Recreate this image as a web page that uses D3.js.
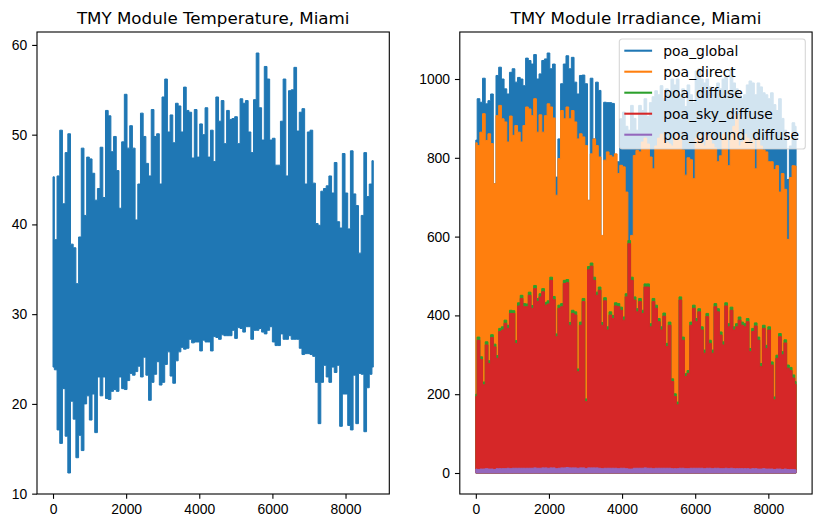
<!DOCTYPE html>
<html>
<head>
<meta charset="utf-8">
<script src="https://cdn.jsdelivr.net/npm/d3@7/dist/d3.min.js"></script>
<style>
  body { margin: 0; background: #fff; }
  svg { display: block; font-family: "DejaVu Sans", sans-serif; }
  .tick text { font-size: 13.9px; fill: #000; }
  .tick line { stroke: #000; stroke-width: 1.1; }
</style>
</head>
<body>
<svg id="chart" width="822" height="528"></svg>
<script>
// module temperature, daily-ish max / min (120 samples over the year)
var tempMax = [45.3, 38.3, 45.4, 50.5, 42.3, 48, 50.1, 37.8, 37.4, 33.4,
  38.6, 48.5, 41, 47.5, 47.3, 45.7, 42.7, 44, 48.6, 43,
  52.7, 52.1, 48.1, 49.8, 46, 41.8, 49.2, 54.5, 48.5, 51,
  48.5, 40.5, 44.5, 52.4, 49.8, 46.8, 45.4, 52.8, 49.8, 50.1,
  44.5, 54.2, 56.2, 50.3, 52.2, 49.1, 53.5, 53.2, 50.3, 55.3,
  52.7, 52.5, 47.4, 52.8, 47.5, 51.2, 50, 53, 47.5, 50.5,
  47, 54.2, 51.5, 53.8, 49, 52.7, 51.7, 51.8, 52, 49,
  54, 53.5, 53.8, 50.3, 48, 53.9, 59.1, 53, 49.4, 57.6,
  56.2, 49.4, 49.6, 46.6, 46.6, 51.5, 56.2, 45.4, 54.9, 55,
  57.5, 50.4, 52.5, 52.9, 44.5, 50.3, 50.5, 44.6, 40.1, 39.9,
  43.7, 44, 44.3, 45.4, 43.5, 46.9, 40.3, 39.6, 47.9, 43.5,
  39.5, 48.2, 43.4, 42.1, 36.8, 41, 48, 43.1, 44.5, 47.1];

var tempMin = [24.1, 23.8, 17.1, 15.6, 21.7, 16.4, 12.3, 20.3, 18.3, 14,
  16.5, 14.8, 20, 20.9, 18.2, 21.1, 16.8, 23, 20.9, 23,
  20.6, 20.5, 21.4, 21.6, 21.4, 23, 21.7, 21.6, 22.6, 23.4,
  23.2, 23.6, 24.2, 23, 25.2, 23.2, 20.4, 22.4, 23.3, 24.7,
  22.1, 22.4, 24.4, 25.8, 23.1, 22.3, 24.8, 25.8, 26.3, 26.1,
  26.2, 27.2, 26.8, 26.9, 26.9, 25.9, 27.1, 26.9, 26.9, 25.9,
  27.5, 27.4, 27.2, 27.7, 27.6, 27.6, 27.6, 28.2, 27.3, 28.5,
  28.4, 28, 28.6, 28.6, 27.2, 28.2, 28.2, 28.4, 28, 27.8,
  28.2, 28.6, 26.9, 26.5, 26.5, 27.8, 27.2, 27.2, 27.6, 27.2,
  27.2, 27.2, 26.2, 25.5, 25.6, 25.6, 25.5, 25.3, 22.4, 17.8,
  22.4, 24.3, 23, 22.4, 24.1, 23.5, 24.3, 17.5, 21.1, 21.1,
  17.6, 17.1, 23.2, 17.8, 23.4, 23.3, 16.9, 21.8, 23.3, 24.1];

// irradiance peaks (nights are 0)
var poaGlobal = [845, 950, 941, 1002, 937, 945, 962, 734, 1009, 1030,
  1000, 975, 962, 1017, 1026, 992, 1004, 1000, 983, 1053,
  1047, 1038, 1062, 1000, 1013, 1047, 1051, 1066, 1026, 1038,
  751, 848, 988, 1038, 1059, 1026, 1055, 992, 962, 1009,
  1010, 988, 692, 1002, 848, 992, 971, 600, 941, 940,
  940, 938, 755, 790, 899, 916, 880, 870, 933, 900,
  870, 933, 920, 950, 905, 940, 955, 970, 960, 983,
  950, 975, 960, 1000, 985, 1000, 960, 975, 930, 985,
  960, 940, 1020, 1026, 1000, 990, 1000, 980, 975, 960,
  990, 975, 1000, 1005, 960, 1026, 990, 975, 960, 950,
  960, 985, 995, 990, 960, 990, 980, 965, 960, 950,
  965, 935, 920, 950, 900, 870, 745, 830, 889, 880];

var poaDirect = [838, 831, 865, 912, 844, 861, 836, 734, 907, 933,
  899, 891, 840, 906, 857, 882, 865, 840, 882, 929,
  924, 907, 950, 865, 909, 865, 907, 937, 929, 901,
  705, 798, 920, 899, 929, 899, 920, 891, 848, 861,
  853, 831, 692, 810, 848, 831, 802, 603, 794, 815,
  806, 802, 810, 760, 781, 777, 713, 587, 603, 806,
  819, 815, 840, 850, 835, 802, 772, 830, 850, 860,
  845, 840, 835, 830, 850, 860, 845, 820, 756, 800,
  795, 747, 850, 855, 840, 830, 860, 850, 835, 825,
  790, 805, 860, 850, 780, 860, 880, 910, 830, 840,
  860, 850, 840, 845, 772, 850, 830, 820, 815, 790,
  790, 770, 780, 713, 760, 720, 593, 750, 780, 779];

var poaDiffuse = [200, 345, 295, 231, 333, 285, 351, 327, 298, 367,
  371, 388, 375, 413, 412, 336, 432, 451, 430, 429,
  459, 425, 476, 443, 455, 468, 433, 437, 497, 448,
  353, 426, 430, 489, 491, 382, 413, 409, 264, 383,
  443, 188, 524, 533, 497, 459, 472, 382, 445, 371,
  409, 400, 432, 430, 421, 396, 455, 590, 497, 447,
  417, 443, 413, 480, 480, 379, 443, 426, 392, 371,
  406, 329, 383, 239, 201, 180, 447, 345, 252, 260,
  383, 426, 392, 417, 371, 312, 405, 337, 312, 430,
  417, 358, 333, 432, 379, 421, 371, 379, 396, 383,
  379, 392, 316, 367, 381, 345, 278, 375, 324, 371,
  282, 193, 299, 354, 308, 338, 274, 268, 249, 232];

var poaSkyDiffuse = [194, 337, 288, 224, 325, 278, 344, 320, 291, 359,
  363, 380, 367, 405, 405, 329, 424, 443, 422, 422,
  451, 418, 468, 435, 447, 460, 426, 429, 489, 440,
  346, 418, 422, 481, 483, 375, 405, 401, 257, 375,
  435, 181, 516, 525, 489, 451, 464, 375, 437, 363,
  401, 392, 424, 422, 413, 388, 447, 582, 489, 439,
  409, 435, 405, 472, 472, 371, 435, 418, 384, 363,
  398, 321, 375, 232, 194, 173, 439, 337, 245, 253,
  375, 418, 384, 409, 363, 304, 397, 329, 304, 422,
  409, 350, 325, 424, 371, 413, 363, 371, 388, 375,
  371, 384, 308, 359, 373, 337, 270, 367, 316, 363,
  274, 186, 291, 346, 300, 330, 266, 260, 241, 225];

var poaGroundDiffuse = [10, 9, 10, 10, 11, 10, 10, 9, 11, 11,
  11, 11, 12, 11, 12, 12, 12, 12, 12, 12,
  12, 12, 13, 12, 12, 13, 13, 12, 13, 13,
  11, 12, 13, 13, 14, 13, 13, 13, 12, 13,
  13, 11, 13, 13, 13, 13, 12, 11, 12, 12,
  12, 12, 12, 11, 12, 12, 11, 10, 10, 12,
  12, 12, 12, 13, 12, 12, 11, 12, 12, 12,
  12, 12, 12, 11, 11, 11, 12, 12, 11, 11,
  12, 12, 12, 12, 12, 11, 12, 12, 11, 12,
  12, 11, 11, 12, 11, 12, 11, 11, 11, 11,
  11, 11, 10, 11, 11, 10, 10, 11, 10, 10,
  10, 9, 10, 10, 9, 10, 9, 9, 9, 8];

var seriesNames = ["poa_global", "poa_direct", "poa_diffuse", "poa_sky_diffuse", "poa_ground_diffuse"];
var seriesColors = ["#1f77b4", "#ff7f0e", "#2ca02c", "#d62728", "#9467bd"];
var seriesData = [poaGlobal, poaDirect, poaDiffuse, poaSkyDiffuse, poaGroundDiffuse];

var xTicks = [0, 2000, 4000, 6000, 8000];
var tempTicks = [10, 20, 30, 40, 50, 60];
var irrTicks = [0, 200, 400, 600, 800, 1000];

// hour of year for each sample
var hours = d3.range(tempMax.length).map(function(i) { return i * 8759 / (tempMax.length - 1); });

var svg = d3.select("#chart");
var axW = 352.3, axH = 462, axTop = 32;
var lw = 2.08;

// the hourly line swings low -> high every day, so at this size it reads as a
// band: draw it as a stepped band between the night low and the day high
function band(lo, hi) {
  return hi.map(function(v, i) {
    return { q: hours[i], lo: lo ? lo[i] : 0, hi: v };
  });
}

function makePanel(id, left, yDomain, yTicks, title) {
  var g = svg.append("g")
      .attr("id", id)
      .attr("transform", "translate(" + left + "," + axTop + ")");

  var x = d3.scaleLinear().domain([-437.95, 9196.95]).range([0, axW]);
  var y = d3.scaleLinear().domain(yDomain).range([axH, 0]);

  g.append("clipPath").attr("id", "clip_" + id)
    .append("rect").attr("width", axW).attr("height", axH);

  var plot = g.append("g").attr("clip-path", "url(#clip_" + id + ")");

  // x axis
  var xa = g.append("g")
      .attr("transform", "translate(0," + axH + ")")
      .call(d3.axisBottom(x).tickValues(xTicks).tickFormat(d3.format("d")).tickSize(4.86).tickPadding(4.86));
  xa.select(".domain").remove();
  xa.selectAll("text").attr("dy", "0.76em");

  // y axis
  var ya = g.append("g")
      .call(d3.axisLeft(y).tickValues(yTicks).tickFormat(d3.format("d")).tickSize(4.86).tickPadding(4.86));
  ya.select(".domain").remove();

  // frame
  g.append("rect")
      .attr("width", axW).attr("height", axH)
      .attr("fill", "none").attr("stroke", "#000").attr("stroke-width", 1.1);

  g.append("text")
      .attr("x", axW / 2).attr("y", -8.3)
      .attr("text-anchor", "middle")
      .style("font-size", "16.7px")
      .text(title);

  var area = d3.area()
      .curve(d3.curveStep)
      .x(function(d) { return x(d.q); })
      .y0(function(d) { return y(d.lo); })
      .y1(function(d) { return y(d.hi); });

  return { plot: plot, area: area, g: g };
}

function drawBand(panel, data, color) {
  panel.plot.append("path")
      .datum(data)
      .attr("fill", color)
      .attr("stroke", color)
      .attr("stroke-width", 1)
      .attr("stroke-linejoin", "round")
      .attr("d", panel.area);
}

// -------- left: temperature --------
var left = makePanel("temp", 37, [9.96, 61.44], tempTicks, "TMY Module Temperature, Miami");
drawBand(left, band(tempMin, tempMax), "#1f77b4");

// -------- right: irradiance --------
var right = makePanel("irr", 459.8, [-53.3, 1119.3], irrTicks, "TMY Module Irradiance, Miami");
seriesData.forEach(function(s, k) {
  drawBand(right, band(null, s), seriesColors[k]);
});

// legend
var lg = svg.append("g").attr("transform", "translate(619.3,39)");
lg.append("rect")
    .attr("width", 186).attr("height", 110).attr("rx", 2.8)
    .attr("fill", "#fff").attr("fill-opacity", 0.8)
    .attr("stroke", "#ccc").attr("stroke-opacity", 0.8).attr("stroke-width", 1.1);
seriesNames.forEach(function(name, k) {
  var cy = 11.7 + k * 21;
  lg.append("line")
      .attr("x1", 5).attr("x2", 32.8)
      .attr("y1", cy).attr("y2", cy)
      .attr("stroke", seriesColors[k]).attr("stroke-width", lw);
  lg.append("text")
      .attr("x", 44).attr("y", cy + 5)
      .style("font-size", "13.9px")
      .text(name);
});
</script>
</body>
</html>
